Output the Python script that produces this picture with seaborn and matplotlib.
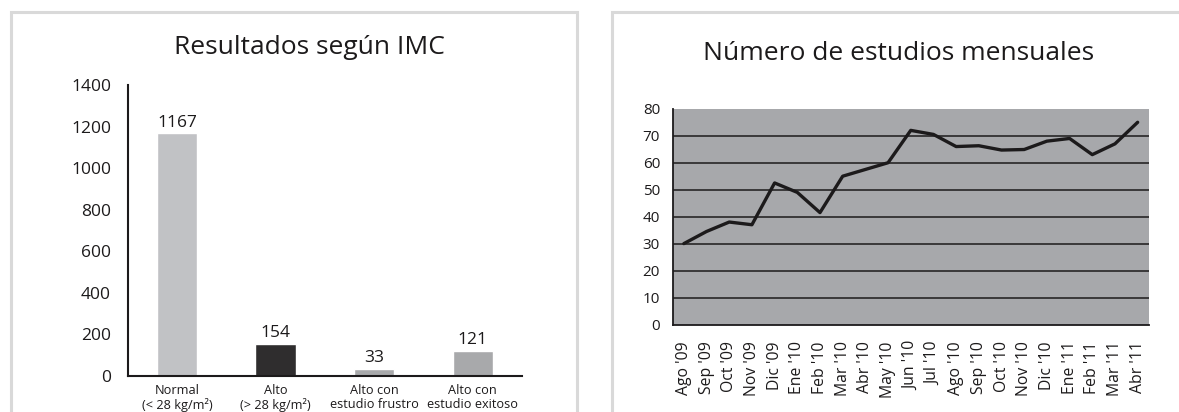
import numpy as np
import pandas as pd
import matplotlib
matplotlib.use('Agg')
import matplotlib.pyplot as plt
from matplotlib.patches import Rectangle
import seaborn as sns

sns.set_style('white')
plt.rcParams['font.family'] = ['Open Sans', 'DejaVu Sans']

# datos: resultados segun IMC
categorias = ['Normal\n(< 28 kg/m²)', 'Alto\n(> 28 kg/m²)',
              'Alto con\nestudio frustro', 'Alto con\nestudio exitoso']
resultados = [1167, 154, 33, 121]
colores_barras = ['#c1c2c5', '#2f2d2e', '#a8a9ab', '#a8a9ab']

# datos: numero de estudios mensuales
meses = ["Ago '09", "Sep '09", "Oct '09", "Nov '09", "Dic '09", "Ene '10", "Feb '10",
         "Mar '10", "Abr '10", "May '10", "Jun '10", "Jul '10", "Ago '10", "Sep '10",
         "Oct '10", "Nov '10", "Dic '10", "Ene '11", "Feb '11", "Mar '11", "Abr '11"]
estudios = [30, 34.5, 38, 37, 52.5, 49, 41.5, 55, 57.5, 60, 72, 70.5, 66, 66.3,
            64.7, 64.9, 68, 69, 63, 67, 75]

txt = '#1c1a1b'

df_imc = pd.DataFrame({'cat': categorias, 'n': resultados})
df_mes = pd.DataFrame({'pos': np.arange(len(meses)), 'mes': meses, 'n': estudios})

fig = plt.figure(figsize=(11.79, 4.12), dpi=100)

# marcos de los paneles
for x0, x1 in [(11, 577), (612, 1200)]:
    fig.patches.append(Rectangle((x0 / 1179, -0.1), (x1 - x0) / 1179, 1.1 - 12 / 412,
                                 transform=fig.transFigure, fill=False,
                                 edgecolor='#d9d9d9', linewidth=2.2))

# ---- panel izquierdo: barras
ax1 = fig.add_axes([127.7 / 1179, 1 - 376 / 412, 394.3 / 1179, 291 / 412])
sns.barplot(data=df_imc, x='cat', y='n', hue='cat', palette=colores_barras,
            width=0.41, saturation=1, legend=False, ax=ax1)
for cont in ax1.containers:
    ax1.bar_label(cont, padding=2, fontsize=12.5, color=txt)
ax1.set_ylim(0, 1400)
ax1.set_yticks(range(0, 1401, 200))
ax1.set_xlim(-0.5, 3.5)
ax1.set_xticks(np.arange(-0.5, 4, 1))
ax1.set_xticklabels([])
ax1.set_xticks(range(4), minor=True)
ax1.set_xticklabels(categorias, minor=True, fontsize=9.2, color=txt, linespacing=1.1)
ax1.tick_params(axis='x', which='major', length=5, width=1.5, color=txt, direction='out')
ax1.tick_params(axis='x', which='minor', length=0, pad=6)
ax1.tick_params(axis='y', length=5, width=1.5, color=txt, labelsize=12.5,
                labelcolor=txt, pad=7)
ax1.set_xlabel('')
ax1.set_ylabel('')
for s in ['top', 'right']:
    ax1.spines[s].set_visible(False)
for s in ['left', 'bottom']:
    ax1.spines[s].set_color(txt)
    ax1.spines[s].set_linewidth(1.5)
fig.text(309 / 1179, 1 - 47 / 412, 'Resultados según IMC', fontsize=19,
         ha='center', va='center', color=txt)

# ---- panel derecho: linea
ax2 = fig.add_axes([672.5 / 1179, 1 - 324.5 / 412, 476.5 / 1179, 215.7 / 412])
ax2.set_facecolor('#a7a8ab')
sns.lineplot(data=df_mes, x='pos', y='n', color=txt, linewidth=2.4, ax=ax2)
ax2.set_ylim(0, 80)
ax2.set_yticks(range(0, 81, 10))
ax2.set_xlim(-0.5, len(meses) - 0.5)
ax2.set_xticks(np.arange(-0.5, len(meses), 1))
ax2.set_xticklabels([])
ax2.set_xticks(range(len(meses)), minor=True)
ax2.set_xticklabels(meses, minor=True, rotation=90, fontsize=11.3, color=txt)
ax2.tick_params(axis='x', which='major', length=5, width=1.3, color=txt, direction='out')
ax2.tick_params(axis='x', which='minor', length=0, pad=12)
ax2.tick_params(axis='y', length=5, width=1.3, color=txt, labelsize=11,
                labelcolor=txt, pad=4)
ax2.yaxis.grid(True, color=txt, linewidth=1.1)
gl = ax2.get_ygridlines()
gl[0].set_visible(False)
gl[-1].set_visible(False)
ax2.set_xlabel('')
ax2.set_ylabel('')
for s in ['top', 'right']:
    ax2.spines[s].set_visible(False)
for s in ['left', 'bottom']:
    ax2.spines[s].set_color(txt)
    ax2.spines[s].set_linewidth(1.3)
fig.text(899 / 1179, 1 - 53 / 412, 'Número de estudios mensuales', fontsize=19,
         ha='center', va='center', color=txt)

fig.savefig('out.png', dpi=100)
